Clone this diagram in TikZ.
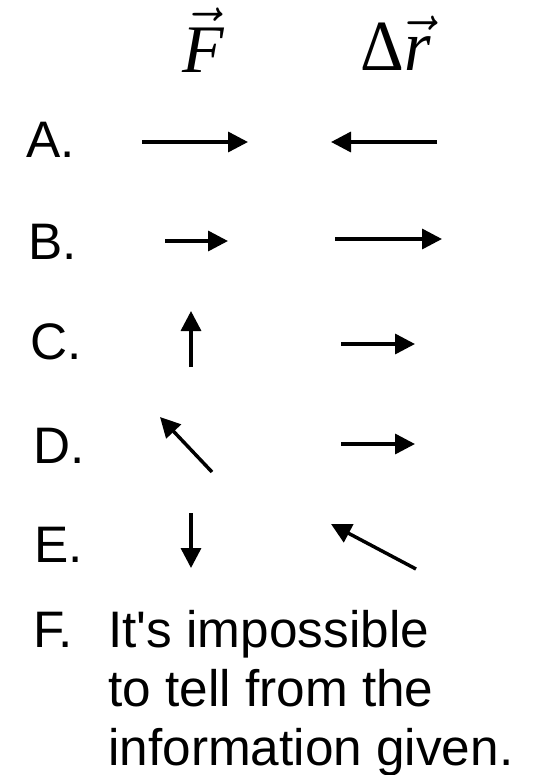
\documentclass[tikz,border=0pt]{standalone}
\usepackage{fontspec}
\setmainfont{Liberation Sans}
\newfontfamily\serif{Liberation Serif}
\usepackage{graphicx}
\usetikzlibrary{arrows.meta}

\begin{document}
\begin{tikzpicture}[x=0.75pt,y=-0.75pt,
  vec/.style={-{Triangle[length=15pt,width=15pt]},line width=2.6pt},
  lbl/.style={anchor=base west,inner sep=0pt,font=\fontsize{38.5}{44.25}\selectfont},
  head/.style={anchor=base,inner sep=0pt}]

\useasboundingbox (0,0) rectangle (550,775);

\node[head] (hF) at (203,72) {\scalebox{5.1}{$\vec{\mbox{\serif\itshape F}}$}};
\node[head] (hR) at (396,70) {\scalebox{5.1}[5.4]{{\serif Δ}$\vec{\mbox{\serif\itshape r}}$}};

\foreach \l/\x/\y in {A/26/157, B/28/259, C/30/359, D/33/463, E/34/562, F/33/647}{
\node[lbl] (l\l) at (\x,\y) {\l.};
}

% base of a multi-line node is its last line
\node[lbl,align=left] (tF) at (108,765) {It\textquotesingle s impossible\\to tell from the\\information given.};

% tails (0) and tips (1)
\foreach \n/\x/\y in {aF0/142/142, aF1/248/142, aR0/437/142, aR1/331/142,
  bF0/165/241, bF1/228/241, bR0/335/239, bR1/442/239,
  cF0/191/367, cF1/191/311, cR0/341/344, cR1/415/344,
  dF0/212/472, dF1/160/417, dR0/341/444, dR1/415/444,
  eF0/191/513, eF1/191/568, eR0/416/569, eR1/331/524}{
\coordinate (\n) at (\x,\y);
}

\foreach \r in {a,b,c,d,e}{
\path (\r F0) edge [vec] (\r F1);
\path (\r R0) edge [vec] (\r R1);
}

\end{tikzpicture}
\end{document}
